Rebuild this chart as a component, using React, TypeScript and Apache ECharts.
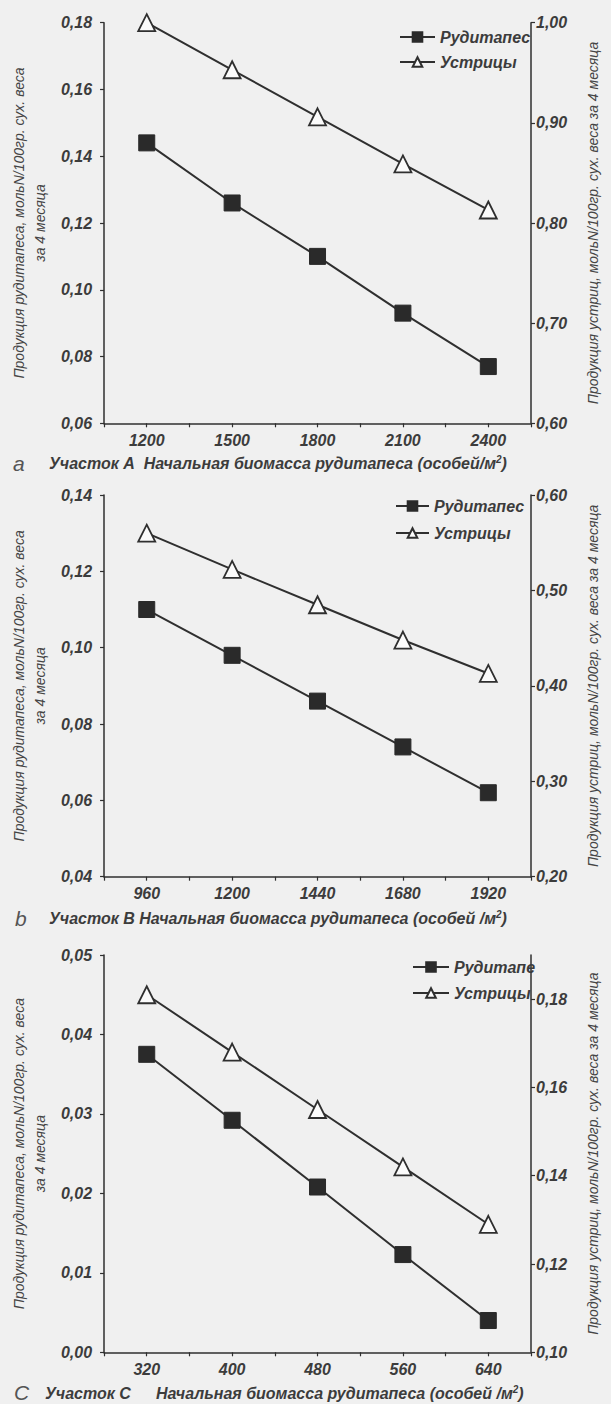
import React, { useEffect, useRef } from "react";
import * as echarts from "echarts";

// Panel A
const catsA = [1200, 1500, 1800, 2100, 2400];
const rudA = [0.144, 0.126, 0.110, 0.093, 0.077];
const oysA = [1.0, 0.953, 0.906, 0.859, 0.813];
// Panel B
const catsB = [960, 1200, 1440, 1680, 1920];
const rudB = [0.110, 0.098, 0.086, 0.074, 0.062];
const oysB = [0.560, 0.522, 0.485, 0.448, 0.413];
// Panel C
const catsC = [320, 400, 480, 560, 640];
const rudC = [0.0375, 0.0292, 0.0208, 0.0123, 0.004];
const oysC = [0.181, 0.168, 0.155, 0.142, 0.129];

const nameRud = "Рудитапес";
const nameRudC = "Рудитапе";
const nameOys = "Устрицы";
const leftName = "Продукция рудитапеса, мольN/100гр. сух. веса\nза 4 месяца";
const rightName = "Продукция устриц, мольN/100гр. сух. веса за 4 месяца";

const FONT = "'Liberation Sans', Arial, sans-serif";
const INK = "#2f2f2f";
const TXT = "#3c3c3c";

const fmt = (v: number) => v.toFixed(2).replace(".", ",");

function xAxis(grid: number, cats: number[], step: number) {
  const half = step / 2;
  return {
    type: "value",
    gridIndex: grid,
    min: cats[0] - half,
    max: cats[cats.length - 1] + half,
    interval: half,
    splitLine: { show: false },
    axisLine: { lineStyle: { color: INK, width: 1.5 } },
    axisTick: { length: 4, lineStyle: { color: INK, width: 1.2 } },
    axisLabel: {
      margin: 9,
      fontFamily: FONT,
      fontSize: 16,
      fontStyle: "italic",
      fontWeight: "bold",
      color: TXT,
      formatter: (v: number) => (cats.indexOf(Math.round(v)) >= 0 ? String(Math.round(v)) : ""),
    },
  };
}

function yAxis(grid: number, side: "left" | "right", min: number, max: number, interval: number, name: string, gap: number, custom?: number[]) {
  const label: any = {
    margin: side === "left" ? 12 : 5,
    fontFamily: FONT,
    fontSize: 16,
    fontStyle: "italic",
    fontWeight: "bold",
    color: TXT,
    formatter: (v: number) => fmt(v),
  };
  const tick: any = { length: 4, lineStyle: { color: INK, width: 1.2 } };
  if (custom) {
    label.customValues = custom;
    tick.customValues = custom;
  }
  return {
    type: "value",
    gridIndex: grid,
    position: side,
    min,
    max,
    interval,
    splitLine: { show: false },
    axisLine: { show: true, lineStyle: { color: INK, width: 1.5 } },
    axisTick: tick,
    axisLabel: label,
    name,
    nameLocation: "middle",
    nameRotate: 90,
    nameGap: gap,
    nameTextStyle: {
      fontFamily: FONT,
      fontSize: 14,
      fontStyle: "italic",
      color: "#454545",
      lineHeight: 21,
    },
  };
}

function pairs(xs: number[], ys: number[]) {
  return xs.map((x, i) => [x, ys[i]]);
}

function rudSeries(name: string, grid: number, xs: number[], ys: number[]) {
  return {
    type: "line",
    name,
    xAxisIndex: grid,
    yAxisIndex: grid * 2,
    data: pairs(xs, ys),
    symbol: "rect",
    symbolSize: 16,
    clip: false,
    lineStyle: { color: INK, width: 2 },
    itemStyle: { color: "#2a2a2a", borderColor: "#2a2a2a", borderWidth: 1 },
  };
}

function oysSeries(name: string, grid: number, xs: number[], ys: number[]) {
  return {
    type: "line",
    name,
    xAxisIndex: grid,
    yAxisIndex: grid * 2 + 1,
    data: pairs(xs, ys),
    symbol: "triangle",
    symbolSize: 17,
    clip: false,
    lineStyle: { color: INK, width: 2 },
    itemStyle: { color: "#fbfbfb", borderColor: INK, borderWidth: 1.8 },
  };
}

function legend(left: number, top: number, names: string[], gap: number, w: number) {
  return {
    left,
    top,
    orient: "vertical",
    itemWidth: w,
    itemHeight: 12,
    itemGap: gap,
    data: names,
    selectedMode: false,
    textStyle: {
      fontFamily: FONT,
      fontSize: 16,
      fontStyle: "italic",
      fontWeight: "bold",
      color: TXT,
    },
  };
}

function caption(x: number, y: number, text: string, big = false) {
  return {
    type: "text",
    x,
    y,
    style: big
      ? {
          text,
          fontFamily: FONT,
          fontSize: 21,
          fontStyle: "italic",
          fill: "#555",
          verticalAlign: "middle",
        }
      : {
          text,
          fontFamily: FONT,
          fontSize: 16,
          fontStyle: "italic",
          fontWeight: "bold",
          fill: TXT,
          verticalAlign: "middle",
          rich: {
            sup: {
              fontFamily: FONT,
              fontSize: 10,
              fontStyle: "italic",
              fontWeight: "bold",
              fill: TXT,
              verticalAlign: "bottom",
              padding: [0, 0, 8, 0],
            },
          },
        },
  };
}

export default function App() {
  const ref = useRef<HTMLDivElement>(null);
  useEffect(() => {
    if (!ref.current) return;
    const chart = echarts.init(ref.current, undefined, { renderer: "svg" });
    const option: any = {
      animation: false,
      backgroundColor: "#f0f0f0",
      grid: [
        { left: 92, right: 66, top: 22.7, height: 400.6 },
        { left: 92, right: 67, top: 495, height: 381.7 },
        { left: 92, right: 67, top: 955, height: 397.3 },
      ],
      xAxis: [xAxis(0, catsA, 300), xAxis(1, catsB, 240), xAxis(2, catsC, 80)],
      yAxis: [
        yAxis(0, "left", 0.06, 0.18, 0.02, leftName, 47),
        yAxis(0, "right", 0.6, 1.0, 0.1, rightName, 51),
        yAxis(1, "left", 0.04, 0.14, 0.02, leftName, 47),
        yAxis(1, "right", 0.2, 0.6, 0.1, rightName, 51),
        yAxis(2, "left", 0, 0.05, 0.01, leftName, 47),
        yAxis(2, "right", 0.1, 0.19, 0.02, rightName, 51, [0.1, 0.12, 0.14, 0.16, 0.18]),
      ],
      legend: [
        legend(394, 24, [nameRud, nameOys], 9, 35),
        legend(390, 493, [nameRud, nameOys], 11, 33),
        legend(407, 954, [nameRudC, nameOys], 10, 36),
      ],
      series: [
        rudSeries(nameRud, 0, catsA, rudA),
        oysSeries(nameOys, 0, catsA, oysA),
        rudSeries(nameRud, 1, catsB, rudB),
        oysSeries(nameOys, 1, catsB, oysB),
        rudSeries(nameRudC, 2, catsC, rudC),
        oysSeries(nameOys, 2, catsC, oysC),
      ],
      graphic: [
        caption(13, 463, "а", true),
        caption(49, 463, "Участок А  Начальная биомасса рудитапеса (особей/м{sup|2})"),
        caption(15, 918, "b", true),
        caption(49, 918, "Участок В Начальная биомасса рудитапеса (особей /м{sup|2})"),
        caption(14, 1392, "С", true),
        caption(45, 1393, "Участок С"),
        caption(156, 1393, "Начальная биомасса рудитапеса (особей /м{sup|2})"),
      ],
    };
    chart.setOption(option);
    return () => chart.dispose();
  }, []);
  return (
    <div
      ref={ref}
      style={{ position: "absolute", left: 0, top: 0, width: 611, height: 1404 }}
    />
  );
}
